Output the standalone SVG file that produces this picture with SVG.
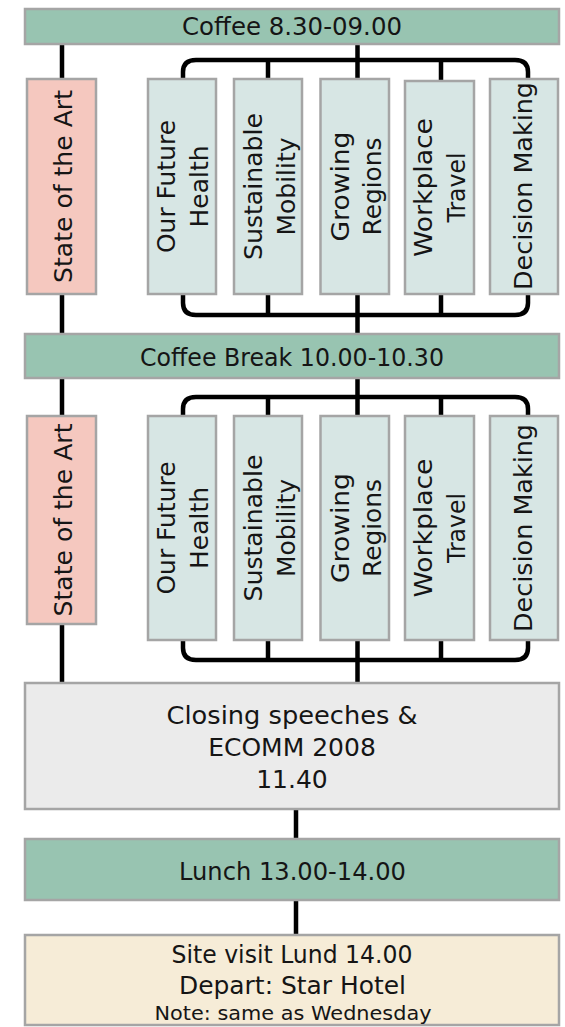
<svg xmlns="http://www.w3.org/2000/svg" width="565" height="1027" viewBox="0 0 565 1027">
<style>
.box{stroke:#a5a5a5;stroke-width:2.5}
.g{fill:#98c4b1}
.t{fill:#d7e6e4}
.p{fill:#f5c8bf}
.c{fill:#ebebeb}
.b{fill:#f6ecd7}
text{font-family:"DejaVu Sans","Liberation Sans",sans-serif;font-size:25px;fill:#151515;text-anchor:middle}
.sm{font-size:20px}
.conn{fill:none;stroke:#000;stroke-width:4.5}
</style>
<g id="connectors" class="conn">
<path d="M62,44V79M62,294V334M62,378V416M62,624V683"/>
<path d="M357.5,44V79M357.5,294V334M357.5,378V416M357.5,640V683"/>
<path d="M296,809V839M296,900V935"/>
<path d="M183,79V72Q183,60 196,60H515Q528,60 528,72V79M268,60V79M441,60V81"/>
<path d="M183,294V303Q183,315 196,315H515Q528,315 528,303V294M268,294V315M441,294V315"/>
<path d="M183,416V409Q183,397 196,397H515Q528,397 528,409V416M268,397V416M441,397V416"/>
<path d="M183,640V648Q183,660 196,660H515Q528,660 528,648V640M268,640V660M441,640V660"/>
</g>
<g id="coffee1"><rect class="box g" x="25" y="9" width="534" height="35"/><text x="292" y="35" textLength="220" lengthAdjust="spacingAndGlyphs">Coffee 8.30-09.00</text></g>
<g id="sota1"><rect class="box p" x="27" y="79" width="69" height="215"/><text transform="translate(71.5,186.5) rotate(-90)" textLength="193" lengthAdjust="spacingAndGlyphs">State of the Art</text></g>
<g id="health1"><rect class="box t" x="148" y="79" width="68" height="215"/><text transform="translate(175,186.5) rotate(-90)" textLength="133" lengthAdjust="spacingAndGlyphs">Our Future</text><text transform="translate(208,186.5) rotate(-90)" textLength="82" lengthAdjust="spacingAndGlyphs">Health</text></g>
<g id="mobility1"><rect class="box t" x="234" y="79" width="68" height="215"/><text transform="translate(262,186.5) rotate(-90)" textLength="147" lengthAdjust="spacingAndGlyphs">Sustainable</text><text transform="translate(295,186.5) rotate(-90)">Mobility</text></g>
<g id="regions1"><rect class="box t" x="320.5" y="79" width="68.5" height="215"/><text transform="translate(349,186.5) rotate(-90)" textLength="110" lengthAdjust="spacingAndGlyphs">Growing</text><text transform="translate(381,186.5) rotate(-90)" textLength="98" lengthAdjust="spacingAndGlyphs">Regions</text></g>
<g id="travel1"><rect class="box t" x="405" y="81" width="69" height="213"/><text transform="translate(432,187.5) rotate(-90)" textLength="139" lengthAdjust="spacingAndGlyphs">Workplace</text><text transform="translate(465,187.5) rotate(-90)" textLength="70" lengthAdjust="spacingAndGlyphs">Travel</text></g>
<g id="decision1"><rect class="box t" x="490" y="79" width="68" height="215"/><text transform="translate(532,186) rotate(-90)" textLength="208" lengthAdjust="spacingAndGlyphs">Decision Making</text></g>
<g id="coffee2"><rect class="box g" x="25" y="334" width="534" height="44"/><text x="292" y="365.5" textLength="304" lengthAdjust="spacingAndGlyphs">Coffee Break 10.00-10.30</text></g>
<g id="sota2"><rect class="box p" x="27" y="416" width="69" height="208"/><text transform="translate(71.5,520) rotate(-90)" textLength="193" lengthAdjust="spacingAndGlyphs">State of the Art</text></g>
<g id="health2"><rect class="box t" x="148" y="416" width="68" height="224"/><text transform="translate(175,528) rotate(-90)" textLength="133" lengthAdjust="spacingAndGlyphs">Our Future</text><text transform="translate(208,528) rotate(-90)" textLength="82" lengthAdjust="spacingAndGlyphs">Health</text></g>
<g id="mobility2"><rect class="box t" x="234" y="416" width="68" height="224"/><text transform="translate(262,528) rotate(-90)" textLength="147" lengthAdjust="spacingAndGlyphs">Sustainable</text><text transform="translate(295,528) rotate(-90)">Mobility</text></g>
<g id="regions2"><rect class="box t" x="320.5" y="416" width="68.5" height="224"/><text transform="translate(349,528) rotate(-90)" textLength="110" lengthAdjust="spacingAndGlyphs">Growing</text><text transform="translate(381,528) rotate(-90)" textLength="98" lengthAdjust="spacingAndGlyphs">Regions</text></g>
<g id="travel2"><rect class="box t" x="405" y="416" width="69" height="224"/><text transform="translate(432,528) rotate(-90)" textLength="139" lengthAdjust="spacingAndGlyphs">Workplace</text><text transform="translate(465,528) rotate(-90)" textLength="70" lengthAdjust="spacingAndGlyphs">Travel</text></g>
<g id="decision2"><rect class="box t" x="490" y="416" width="68" height="224"/><text transform="translate(532,528) rotate(-90)" textLength="208" lengthAdjust="spacingAndGlyphs">Decision Making</text></g>
<g id="closing"><rect class="box c" x="25" y="683" width="534" height="126"/><text x="292" y="723.5" textLength="251" lengthAdjust="spacingAndGlyphs">Closing speeches &amp;</text><text x="292" y="755.5">ECOMM 2008</text><text x="292" y="787.5">11.40</text></g>
<g id="lunch"><rect class="box g" x="25" y="839" width="534" height="61"/><text x="292.5" y="880" textLength="227" lengthAdjust="spacingAndGlyphs">Lunch 13.00-14.00</text></g>
<g id="site"><rect class="box b" x="25" y="935" width="534" height="90"/><text x="292" y="962.5" textLength="241" lengthAdjust="spacingAndGlyphs">Site visit Lund 14.00</text><text x="292.5" y="994" textLength="227" lengthAdjust="spacingAndGlyphs">Depart: Star Hotel</text><text class="sm" x="293" y="1020" textLength="277" lengthAdjust="spacingAndGlyphs">Note: same as Wednesday</text></g>
</svg>
